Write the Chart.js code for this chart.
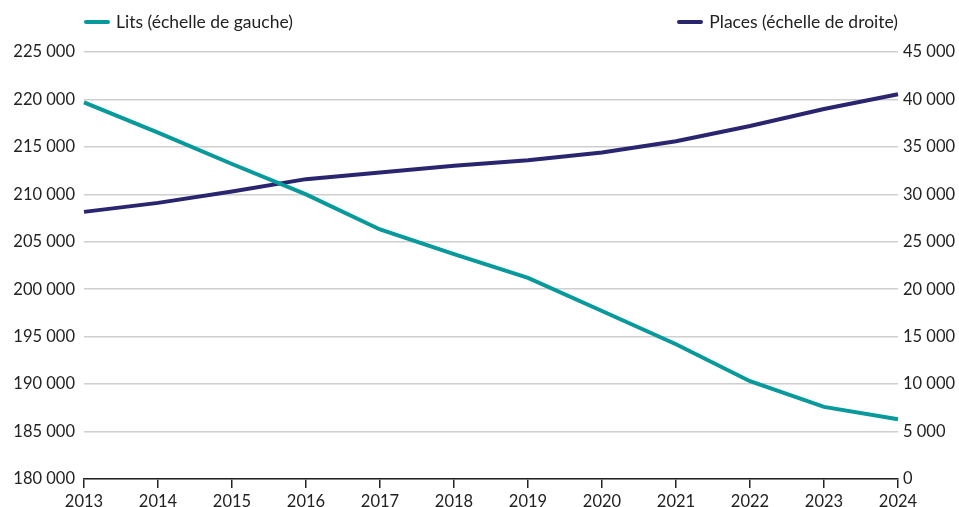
<!DOCTYPE html>
<html>
<head>
<meta charset="utf-8">
<script src="https://cdn.jsdelivr.net/npm/chart.js@4"></script>
<style>
  body { margin: 0; background: #fff; font-family: Lato, sans-serif; }
  #wrap { position: relative; width: 959px; height: 507px; }
  #legend { position: absolute; left: 84px; right: 61px; top: 11px; display: flex; justify-content: space-between; font-size: 17.5px; color: #222; }
  #legend span.item { display: flex; align-items: center; }
  #legend i { display: inline-block; width: 26px; height: 4px; border-radius: 2px; margin-right: 6px; }
</style>
</head>
<body>
<div id="wrap">
  <div id="legend"></div>
  <canvas id="plot" width="959" height="507"></canvas>
</div>
<script>
const years = ["2013","2014","2015","2016","2017","2018","2019","2020","2021","2022","2023","2024"];
const lits = [219700, 216500, 213200, 210000, 206300, 203700, 201200, 197700, 194200, 190300, 187600, 186300];
const places = [28150, 29100, 30300, 31600, 32300, 33000, 33600, 34400, 35600, 37200, 39000, 40550];
const seriesNames = ["Lits (échelle de gauche)", "Places (échelle de droite)"];
const colors = ["#07999b", "#29266f"];

function fmt(v) {
  return String(v).replace(/\B(?=(\d{3})+(?!\d))/g, " ");
}

const data = {
  labels: years,
  datasets: [{
    label: seriesNames[0],
    data: lits,
    yAxisID: "y",
    borderColor: colors[0],
    borderWidth: 4,
    pointRadius: 0,
    fill: false,
    tension: 0
  },
  {
    label: seriesNames[1],
    data: places,
    yAxisID: "y1",
    borderColor: colors[1],
    borderWidth: 4,
    pointRadius: 0,
    fill: false,
    tension: 0
  }]
};

const tickFont = { family: "Lato", size: 16.5 };

const config = {
  type: "line",
  data: data,
  options: {
    responsive: false,
    animation: false,
    layout: { padding: { top: 52, bottom: 0, left: 0, right: 0 } },
    plugins: { legend: { display: false }, tooltip: { enabled: false } },
    scales: {
      x: {
        offset: false,
        grid: { drawOnChartArea: false, drawTicks: true, tickLength: 9, color: "#222", lineWidth: 1.5 },
        border: { color: "#222", width: 1.5 },
        ticks: { color: "#222", font: tickFont, padding: 4, maxRotation: 0 },
        afterFit: s => { s.height = 28; }
      },
      y: {
        position: "left",
        min: 180000, max: 225000,
        grid: { color: "#cfcfcf", lineWidth: 1.5, drawTicks: false },
        border: { display: false },
        ticks: { stepSize: 5000, color: "#222", font: tickFont, padding: 9, callback: v => fmt(v) },
        afterFit: s => { s.width = 84; }
      },
      y1: {
        position: "right",
        min: 0, max: 45000,
        grid: { drawOnChartArea: false, drawTicks: false },
        border: { display: false },
        ticks: { stepSize: 5000, color: "#222", font: tickFont, padding: 5, callback: v => fmt(v) },
        afterFit: s => { s.width = 61; }
      }
    }
  }
};

let ctx = document.getElementById("plot").getContext("2d");
let chart = new Chart(ctx, config);

// legend: one item on each side
const legend = document.getElementById("legend");
data.datasets.forEach(ds => {
  const item = document.createElement("span");
  item.className = "item";
  item.innerHTML = '<i style="background:' + ds.borderColor + '"></i>' + ds.label;
  legend.appendChild(item);
});
</script>
</body>
</html>
